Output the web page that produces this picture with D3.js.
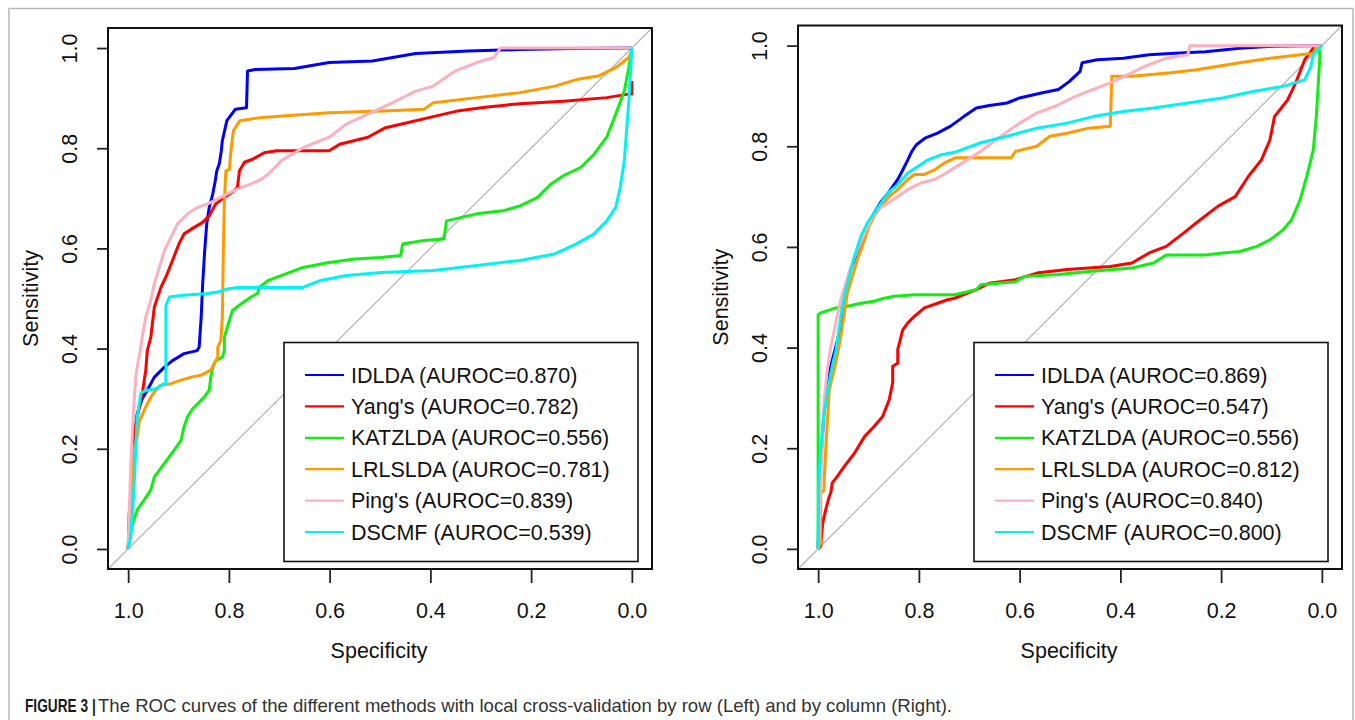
<!DOCTYPE html>
<html>
<head>
<meta charset="utf-8">
<script src="https://cdn.jsdelivr.net/npm/d3@7/dist/d3.min.js"></script>
<style>
  body { margin: 0; background: #fff; }
  svg { display: block; }
  text { font-family: "Liberation Sans", Arial, sans-serif; }
</style>
</head>
<body>
<div id="chart"></div>
<script>
// tick labels and legend
var specTicks = [1.0, 0.8, 0.6, 0.4, 0.2, 0.0];
var sensTicks = [0.0, 0.2, 0.4, 0.6, 0.8, 1.0];
var methods = ["IDLDA", "Yang's", "KATZLDA", "LRLSLDA", "Ping's", "DSCMF"];
var aurocRow = ["0.870", "0.782", "0.556", "0.781", "0.839", "0.539"];
var aurocCol = ["0.869", "0.547", "0.556", "0.812", "0.840", "0.800"];
var colors = ["#0000ff", "#ff0000", "#11ee11", "#ff9a00", "#ffb0be", "#00f2f2"];

// ROC curves, [specificity, sensitivity], cross-validation by row (left)
var idldaRow = [[1,0],[0.995,0.1],[0.99,0.2],[0.982,0.27],[0.972,0.30],[0.962,0.317],[0.948,0.343],[0.928,0.363],[0.912,0.376],[0.889,0.39],[0.863,0.396],[0.859,0.403],[0.855,0.463],[0.852,0.53],[0.848,0.596],[0.844,0.649],[0.839,0.682],[0.832,0.709],[0.827,0.735],[0.824,0.755],[0.819,0.769],[0.815,0.795],[0.813,0.815],[0.804,0.855],[0.787,0.878],[0.765,0.881],[0.763,0.954],[0.748,0.957],[0.670,0.959],[0.601,0.971],[0.515,0.974],[0.429,0.989],[0.325,0.994],[0.222,0.997],[0.118,0.999],[0,1]];
var yangRow = [[1,0],[0.998,0.07],[0.995,0.104],[0.991,0.164],[0.988,0.231],[0.982,0.264],[0.972,0.31],[0.965,0.357],[0.962,0.396],[0.955,0.423],[0.948,0.483],[0.935,0.522],[0.925,0.543],[0.912,0.576],[0.899,0.609],[0.889,0.629],[0.869,0.642],[0.852,0.652],[0.839,0.665],[0.826,0.689],[0.809,0.702],[0.793,0.712],[0.783,0.722],[0.779,0.755],[0.769,0.772],[0.753,0.778],[0.730,0.791],[0.705,0.795],[0.601,0.795],[0.580,0.808],[0.524,0.822],[0.489,0.841],[0.446,0.851],[0.386,0.865],[0.343,0.875],[0.291,0.882],[0.222,0.889],[0.136,0.894],[0.050,0.901],[0.007,0.908],[0,0.908],[0,0.934]];
var katzRow = [[1,0],[0.991,0.051],[0.982,0.078],[0.968,0.098],[0.955,0.118],[0.948,0.144],[0.928,0.171],[0.909,0.197],[0.895,0.217],[0.889,0.244],[0.882,0.264],[0.872,0.28],[0.862,0.29],[0.849,0.303],[0.839,0.317],[0.836,0.343],[0.832,0.363],[0.826,0.376],[0.813,0.383],[0.809,0.396],[0.809,0.423],[0.803,0.443],[0.793,0.476],[0.776,0.489],[0.756,0.503],[0.743,0.51],[0.740,0.522],[0.722,0.536],[0.687,0.549],[0.653,0.562],[0.601,0.572],[0.550,0.579],[0.498,0.582],[0.459,0.586],[0.455,0.609],[0.412,0.616],[0.373,0.619],[0.368,0.655],[0.308,0.669],[0.256,0.675],[0.222,0.685],[0.187,0.702],[0.161,0.728],[0.136,0.745],[0.101,0.762],[0.075,0.788],[0.050,0.822],[0.032,0.868],[0.015,0.914],[0.006,0.961],[0,1]];
var lrlsRow = [[1,0],[0.994,0.1],[0.988,0.2],[0.982,0.224],[0.978,0.254],[0.972,0.267],[0.965,0.284],[0.955,0.303],[0.945,0.317],[0.935,0.327],[0.915,0.33],[0.895,0.337],[0.875,0.343],[0.855,0.347],[0.836,0.357],[0.829,0.37],[0.822,0.383],[0.822,0.403],[0.816,0.416],[0.813,0.463],[0.811,0.596],[0.809,0.695],[0.806,0.755],[0.799,0.758],[0.796,0.795],[0.791,0.835],[0.778,0.855],[0.739,0.861],[0.687,0.865],[0.601,0.871],[0.481,0.875],[0.412,0.878],[0.394,0.891],[0.308,0.901],[0.222,0.911],[0.153,0.924],[0.110,0.937],[0.067,0.944],[0.032,0.961],[0.006,0.981],[0,0.994]];
var pingRow = [[1,0],[0.998,0.064],[0.995,0.164],[0.991,0.244],[0.988,0.297],[0.985,0.343],[0.980,0.376],[0.976,0.396],[0.972,0.423],[0.965,0.463],[0.955,0.496],[0.948,0.53],[0.938,0.562],[0.928,0.596],[0.915,0.622],[0.902,0.649],[0.882,0.669],[0.862,0.682],[0.842,0.689],[0.822,0.699],[0.803,0.709],[0.783,0.719],[0.756,0.729],[0.736,0.738],[0.722,0.748],[0.696,0.775],[0.653,0.801],[0.601,0.822],[0.567,0.848],[0.524,0.868],[0.481,0.888],[0.429,0.914],[0.394,0.924],[0.351,0.954],[0.308,0.971],[0.274,0.981],[0.261,1],[0,1]];
var dscmfRow = [[1,0],[0.995,0.025],[0.991,0.078],[0.988,0.131],[0.985,0.197],[0.982,0.264],[0.975,0.31],[0.972,0.313],[0.962,0.317],[0.945,0.32],[0.928,0.33],[0.925,0.33],[0.925,0.486],[0.918,0.503],[0.895,0.506],[0.869,0.508],[0.842,0.51],[0.822,0.513],[0.803,0.519],[0.783,0.522],[0.653,0.522],[0.618,0.536],[0.567,0.546],[0.498,0.552],[0.394,0.556],[0.308,0.566],[0.222,0.576],[0.153,0.589],[0.110,0.609],[0.075,0.629],[0.050,0.655],[0.032,0.682],[0.023,0.722],[0.015,0.775],[0.011,0.828],[0.006,0.894],[0.002,0.961],[0,1]];

// cross-validation by column (right)
var idldaCol = [[1,0],[0.998,0.097],[0.995,0.164],[0.991,0.23],[0.988,0.276],[0.981,0.33],[0.975,0.363],[0.968,0.39],[0.958,0.429],[0.951,0.475],[0.945,0.515],[0.938,0.548],[0.928,0.575],[0.918,0.601],[0.908,0.628],[0.895,0.654],[0.889,0.667],[0.875,0.69],[0.859,0.71],[0.842,0.734],[0.832,0.753],[0.822,0.773],[0.814,0.79],[0.805,0.803],[0.788,0.816],[0.763,0.826],[0.737,0.84],[0.711,0.859],[0.686,0.876],[0.660,0.881],[0.625,0.886],[0.600,0.896],[0.557,0.906],[0.523,0.913],[0.501,0.929],[0.480,0.949],[0.476,0.966],[0.446,0.972],[0.394,0.975],[0.343,0.982],[0.292,0.985],[0.231,0.988],[0.163,0.995],[0.094,0.999],[0.034,1],[0,1]];
var yangCol = [[1,0],[0.995,0.005],[0.991,0.051],[0.985,0.078],[0.978,0.104],[0.975,0.111],[0.972,0.131],[0.962,0.144],[0.948,0.164],[0.928,0.19],[0.908,0.223],[0.889,0.243],[0.872,0.263],[0.859,0.296],[0.852,0.33],[0.852,0.363],[0.842,0.369],[0.842,0.396],[0.832,0.435],[0.822,0.449],[0.809,0.462],[0.789,0.479],[0.763,0.488],[0.743,0.495],[0.729,0.498],[0.686,0.515],[0.660,0.528],[0.608,0.535],[0.566,0.548],[0.506,0.555],[0.420,0.561],[0.377,0.568],[0.343,0.588],[0.309,0.601],[0.274,0.628],[0.249,0.648],[0.206,0.681],[0.172,0.70],[0.146,0.74],[0.120,0.773],[0.103,0.813],[0.094,0.859],[0.068,0.892],[0.052,0.926],[0.034,0.972],[0.017,0.995],[0.008,1],[0,1]];
var katzCol = [[1,0],[1,0.465],[0.995,0.469],[0.968,0.478],[0.942,0.482],[0.915,0.488],[0.889,0.492],[0.869,0.498],[0.849,0.502],[0.809,0.505],[0.729,0.505],[0.686,0.515],[0.677,0.525],[0.608,0.531],[0.591,0.541],[0.523,0.545],[0.463,0.551],[0.377,0.558],[0.334,0.568],[0.309,0.584],[0.231,0.584],[0.197,0.588],[0.163,0.591],[0.129,0.601],[0.103,0.614],[0.077,0.634],[0.060,0.654],[0.043,0.694],[0.030,0.74],[0.017,0.793],[0.011,0.859],[0.007,0.926],[0.004,0.979],[0.006,1]];
var lrlsCol = [[1,0],[0.995,0.011],[0.995,0.111],[0.988,0.117],[0.988,0.137],[0.985,0.197],[0.981,0.263],[0.978,0.316],[0.968,0.356],[0.962,0.385],[0.955,0.422],[0.948,0.468],[0.942,0.508],[0.932,0.541],[0.922,0.575],[0.908,0.614],[0.899,0.641],[0.889,0.661],[0.875,0.681],[0.859,0.70],[0.842,0.714],[0.822,0.734],[0.809,0.744],[0.789,0.744],[0.769,0.753],[0.749,0.767],[0.728,0.777],[0.617,0.777],[0.608,0.79],[0.566,0.80],[0.540,0.82],[0.506,0.826],[0.463,0.836],[0.420,0.840],[0.417,0.939],[0.377,0.939],[0.300,0.946],[0.249,0.952],[0.206,0.959],[0.163,0.966],[0.103,0.975],[0.043,0.982],[0.017,0.985],[0.012,0.995],[0,1]];
var pingCol = [[1,0],[0.998,0.024],[0.995,0.131],[0.991,0.23],[0.988,0.296],[0.981,0.363],[0.975,0.40],[0.965,0.449],[0.955,0.495],[0.945,0.528],[0.935,0.561],[0.922,0.594],[0.908,0.628],[0.895,0.654],[0.882,0.674],[0.862,0.687],[0.842,0.70],[0.822,0.714],[0.796,0.727],[0.769,0.734],[0.749,0.745],[0.72,0.763],[0.677,0.79],[0.643,0.816],[0.600,0.846],[0.566,0.866],[0.531,0.879],[0.489,0.899],[0.454,0.913],[0.420,0.926],[0.386,0.942],[0.351,0.959],[0.309,0.975],[0.266,0.982],[0.262,1],[0,1]];
var dscmfCol = [[1,0],[0.999,0.131],[0.995,0.197],[0.989,0.263],[0.981,0.316],[0.972,0.363],[0.965,0.392],[0.955,0.462],[0.948,0.502],[0.938,0.541],[0.928,0.581],[0.915,0.621],[0.902,0.648],[0.889,0.667],[0.875,0.687],[0.862,0.707],[0.842,0.724],[0.822,0.747],[0.802,0.76],[0.782,0.773],[0.756,0.783],[0.729,0.788],[0.677,0.807],[0.625,0.82],[0.566,0.836],[0.506,0.846],[0.454,0.859],[0.394,0.869],[0.334,0.876],[0.266,0.886],[0.197,0.896],[0.137,0.909],[0.077,0.919],[0.034,0.932],[0.022,0.958],[0.017,0.982],[0,1]];

var W = 1355, H = 720, FS = 21.5;

var svg = d3.select("#chart").append("svg")
    .attr("width", W)
    .attr("height", H);

svg.append("rect").attr("width", W).attr("height", H).attr("fill", "#fff");

// journal frame
svg.append("rect")
    .attr("x", 9).attr("y", 8.5)
    .attr("width", 1344).attr("height", 760)
    .attr("fill", "none")
    .attr("stroke", "#b8b8b8")
    .attr("stroke-width", 1.5);

function drawPanel(box, curves, auroc)
{
    var g = svg.append("g");

    var x = d3.scaleLinear().domain([1.04, -0.04]).range([box.left, box.right]);
    var y = d3.scaleLinear().domain([-0.04, 1.04]).range([box.bottom, box.top]);

    // chance diagonal
    g.append("line")
        .attr("x1", x(1.04)).attr("y1", y(-0.04))
        .attr("x2", x(-0.04)).attr("y2", y(1.04))
        .attr("stroke", "#b4b4b4")
        .attr("stroke-width", 1.2);

    var line = d3.line()
        .x(d => x(d[0]))
        .y(d => y(d[1]));

    g.selectAll("path.roc")
        .data(curves)
        .enter()
        .append("path")
        .attr("class", "roc")
        .attr("d", d => line(d))
        .attr("fill", "none")
        .attr("stroke", (d, i) => colors[i])
        .attr("stroke-width", 3)
        .attr("stroke-linejoin", "round");

    // plot box
    g.append("rect")
        .attr("x", box.left).attr("y", box.top)
        .attr("width", box.right - box.left)
        .attr("height", box.bottom - box.top)
        .attr("fill", "none")
        .attr("stroke", "#111")
        .attr("stroke-width", 2);

    var xAxis = g.append("g")
        .attr("transform", "translate(0," + box.bottom + ")")
        .call(d3.axisBottom(x).tickValues(specTicks).tickFormat(d3.format(".1f")).tickSize(14));
    xAxis.select(".domain").remove();
    xAxis.selectAll("line").attr("stroke", "#222").attr("stroke-width", 1.8);
    xAxis.selectAll("text")
        .attr("y", 41).attr("dy", "0.35em")
        .attr("fill", "#111")
        .style("font-size", FS + "px")
        .style("font-family", "'Liberation Sans', Arial, sans-serif");

    var yAxis = g.append("g")
        .attr("transform", "translate(" + box.left + ",0)")
        .call(d3.axisLeft(y).tickValues(sensTicks).tickFormat(d3.format(".1f")).tickSize(11));
    yAxis.select(".domain").remove();
    yAxis.selectAll("line").attr("stroke", "#222").attr("stroke-width", 1.8);
    yAxis.selectAll("text")
        .attr("x", null).attr("dy", "0.35em")
        .attr("text-anchor", "middle")
        .attr("transform", "translate(-39,0) rotate(-90)")
        .attr("fill", "#111")
        .style("font-size", FS + "px")
        .style("font-family", "'Liberation Sans', Arial, sans-serif");

    g.append("text")
        .attr("x", (box.left + box.right) / 2 - 1)
        .attr("y", 650).attr("dy", "0.35em")
        .attr("text-anchor", "middle")
        .attr("fill", "#111")
        .style("font-size", FS + "px")
        .text("Specificity");

    g.append("text")
        .attr("transform", "translate(" + (box.left - 78) + "," + ((box.top + box.bottom) / 2) + ") rotate(-90)")
        .attr("dy", "0.35em")
        .attr("text-anchor", "middle")
        .attr("fill", "#111")
        .style("font-size", FS + "px")
        .text("Sensitivity");

    // legend
    var lx = box.left + 176, lr = box.right - 14, ly = 342.5, lb = 561.5;
    g.append("rect")
        .attr("x", lx).attr("y", ly)
        .attr("width", lr - lx).attr("height", lb - ly)
        .attr("fill", "#fff")
        .attr("stroke", "#111")
        .attr("stroke-width", 1.6);

    var rows = g.selectAll("g.leg")
        .data(methods)
        .enter()
        .append("g")
        .attr("class", "leg")
        .attr("transform", (d, i) => "translate(" + lx + "," + (375 + i * 31.4) + ")");
    rows.append("line")
        .attr("x1", 21).attr("x2", 60)
        .attr("stroke", (d, i) => colors[i])
        .attr("stroke-width", 2.2);
    rows.append("text")
        .attr("x", 67).attr("dy", "0.35em")
        .attr("fill", "#111")
        .style("font-size", FS + "px")
        .text((d, i) => d + " (AUROC=" + auroc[i] + ")");
}

drawPanel({left: 108, right: 652, top: 28, bottom: 569},
    [idldaRow, yangRow, katzRow, lrlsRow, pingRow, dscmfRow], aurocRow);
drawPanel({left: 798, right: 1342, top: 25.5, bottom: 569},
    [idldaCol, yangCol, katzCol, lrlsCol, pingCol, dscmfCol], aurocCol);

// caption (bold label is a condensed face in the journal, so squeeze it)
svg.append("text")
    .attr("transform", "translate(25,712) scale(0.74,1)")
    .attr("fill", "#1a1a1a")
    .style("font-size", "18.5px")
    .style("font-weight", "bold")
    .text("FIGURE 3 |");
svg.append("text")
    .attr("x", 98).attr("y", 712)
    .attr("fill", "#333")
    .attr("textLength", 854).attr("lengthAdjust", "spacingAndGlyphs")
    .style("font-size", "18.5px")
    .text("The ROC curves of the different methods with local cross-validation by row (Left) and by column (Right).");
</script>
</body>
</html>
